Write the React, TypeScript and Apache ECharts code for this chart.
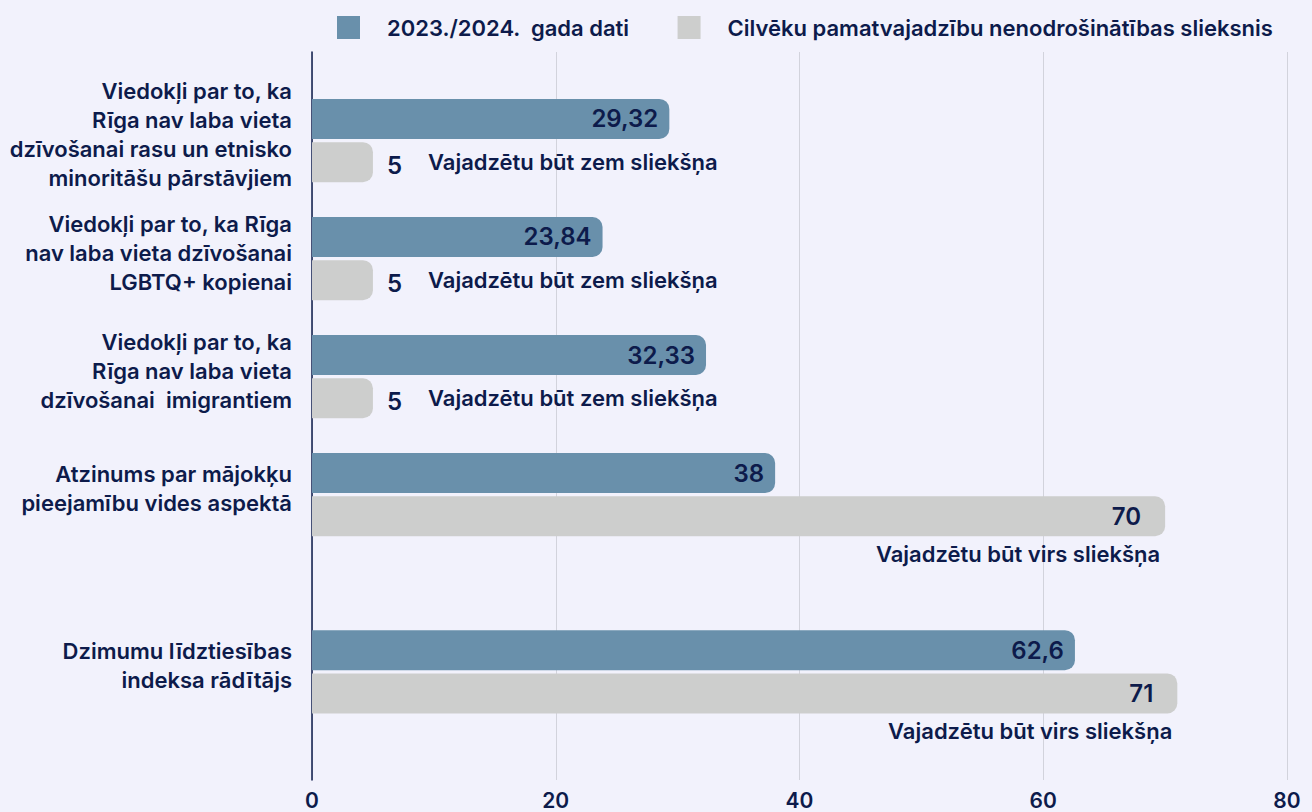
import React, { useEffect, useRef } from "react";
import * as echarts from "echarts";

const categories = [
  "Viedokļi par to, ka\nRīga nav laba vieta\ndzīvošanai rasu un etnisko\nminoritāšu pārstāvjiem",
  "Viedokļi par to, ka Rīga\nnav laba vieta dzīvošanai\nLGBTQ+ kopienai",
  "Viedokļi par to, ka\nRīga nav laba vieta\ndzīvošanai  imigrantiem",
  "Atzinums par mājokķu\npieejamību vides aspektā",
  "Dzimumu līdztiesības\nindeksa rādītājs",
];
const actualValues = [29.32, 23.84, 32.33, 38, 62.6];
const thresholdValues = [5, 5, 5, 70, 71];
const notes = [
  "Vajadzētu būt zem sliekšņa",
  "Vajadzētu būt zem sliekšņa",
  "Vajadzētu būt zem sliekšņa",
  "Vajadzētu būt virs sliekšņa",
  "Vajadzētu būt virs sliekšņa",
];
const seriesNames = ["2023./2024.  gada dati", "Cilvēku pamatvajadzību nenodrošinātības slieksnis"];

// layout: category slot positions on a finer band grid (spacing of the original)
const slotCount = 37;
const slotIndex = [4, 10, 16, 22, 31];

const NAVY = "#0d1b4b";
const FONT = "Inter";

const fmt = (v: number) => String(v).replace(".", ",");

export default function App() {
  const ref = useRef<HTMLDivElement>(null);
  useEffect(() => {
    if (!ref.current) return;
    const chart = echarts.init(ref.current, undefined, { renderer: "svg" });

    const yData: string[] = new Array(slotCount).fill("");
    const blueData: any[] = new Array(slotCount).fill("-");
    const greyData: any[] = new Array(slotCount).fill("-");
    slotIndex.forEach((s, i) => {
      yData[s] = categories[i];
      blueData[s] = actualValues[i];
      const above = thresholdValues[i] > 20;
      greyData[s] = {
        value: thresholdValues[i],
        label: above
          ? {
              show: true,
              position: "insideRight",
              distance: 5,
              verticalAlign: "top",
              offset: [0, -20],
              formatter: `{v|${fmt(thresholdValues[i])}}\n{t|${notes[i]}}`,
              rich: {
                v: { fontSize: 24, fontWeight: 600, color: NAVY, fontFamily: FONT, lineHeight: 40, padding: [0, 19, 0, 0] },
                t: { fontSize: 22, fontWeight: 600, color: NAVY, fontFamily: FONT, lineHeight: 36 },
              },
            }
          : {
              show: true,
              position: "right",
              distance: 14,
              formatter: `{v|${fmt(thresholdValues[i])}}{t|${notes[i]}}`,
              rich: {
                v: { fontSize: 24, fontWeight: 600, color: NAVY, fontFamily: FONT, padding: [6, 26, 0, 0] },
                t: { fontSize: 22, fontWeight: 600, color: NAVY, fontFamily: FONT },
              },
            },
      };
    });

    chart.setOption({
      animation: false,
      backgroundColor: "#f2f2fc",
      textStyle: { fontFamily: FONT },
      legend: {
        left: 337,
        top: 16,
        padding: 0,
        itemWidth: 23,
        itemHeight: 23,
        itemGap: 48,
        icon: "rect",
        textStyle: { fontSize: 22, fontWeight: 600, color: NAVY, fontFamily: FONT, padding: [0, 0, 0, 22] },
        data: seriesNames,
      },
      grid: { left: 312, right: 25, top: 52, bottom: 32 },
      xAxis: {
        type: "value",
        min: 0,
        max: 80,
        interval: 20,
        axisLine: { show: false },
        axisTick: { show: false },
        splitLine: { show: true, lineStyle: { color: "#d2d3dc", width: 1 } },
        axisLabel: { fontSize: 21, fontWeight: 600, color: NAVY, fontFamily: FONT, margin: 10 },
      },
      yAxis: {
        type: "category",
        inverse: true,
        data: yData,
        axisLine: { show: true, lineStyle: { color: NAVY, width: 1.5 } },
        axisTick: { show: false },
        axisLabel: {
          interval: 0,
          margin: 20,
          align: "right",
          formatter: (v: string) =>
            v ? v.split("\n").map((l) => `{a|${l}}`).join("\n") + "\n{s| }" : "",
          rich: {
            a: { fontSize: 22, fontWeight: 600, lineHeight: 29, color: NAVY, fontFamily: FONT, align: "right" },
            s: { fontSize: 2, lineHeight: 12 },
          },
        },
      },
      series: [
        {
          name: seriesNames[0],
          type: "bar",
          data: blueData,
          barWidth: 40,
          barGap: "8%",
          itemStyle: { color: "#6990ab", borderRadius: [0, 10, 10, 0] },
          label: {
            show: true,
            position: "insideRight",
            distance: 11,
            fontSize: 24,
            fontWeight: 600,
            color: NAVY,
            fontFamily: FONT,
            formatter: (p: any) => fmt(p.value),
          },
        },
        {
          name: seriesNames[1],
          type: "bar",
          data: greyData,
          barWidth: 40,
          barGap: "8%",
          itemStyle: { color: "#cdcecd", borderRadius: [0, 10, 10, 0] },
        },
      ],
    });
    return () => chart.dispose();
  }, []);
  return <div ref={ref} style={{ position: "fixed", left: 0, top: 0, width: 1312, height: 812 }} />;
}
